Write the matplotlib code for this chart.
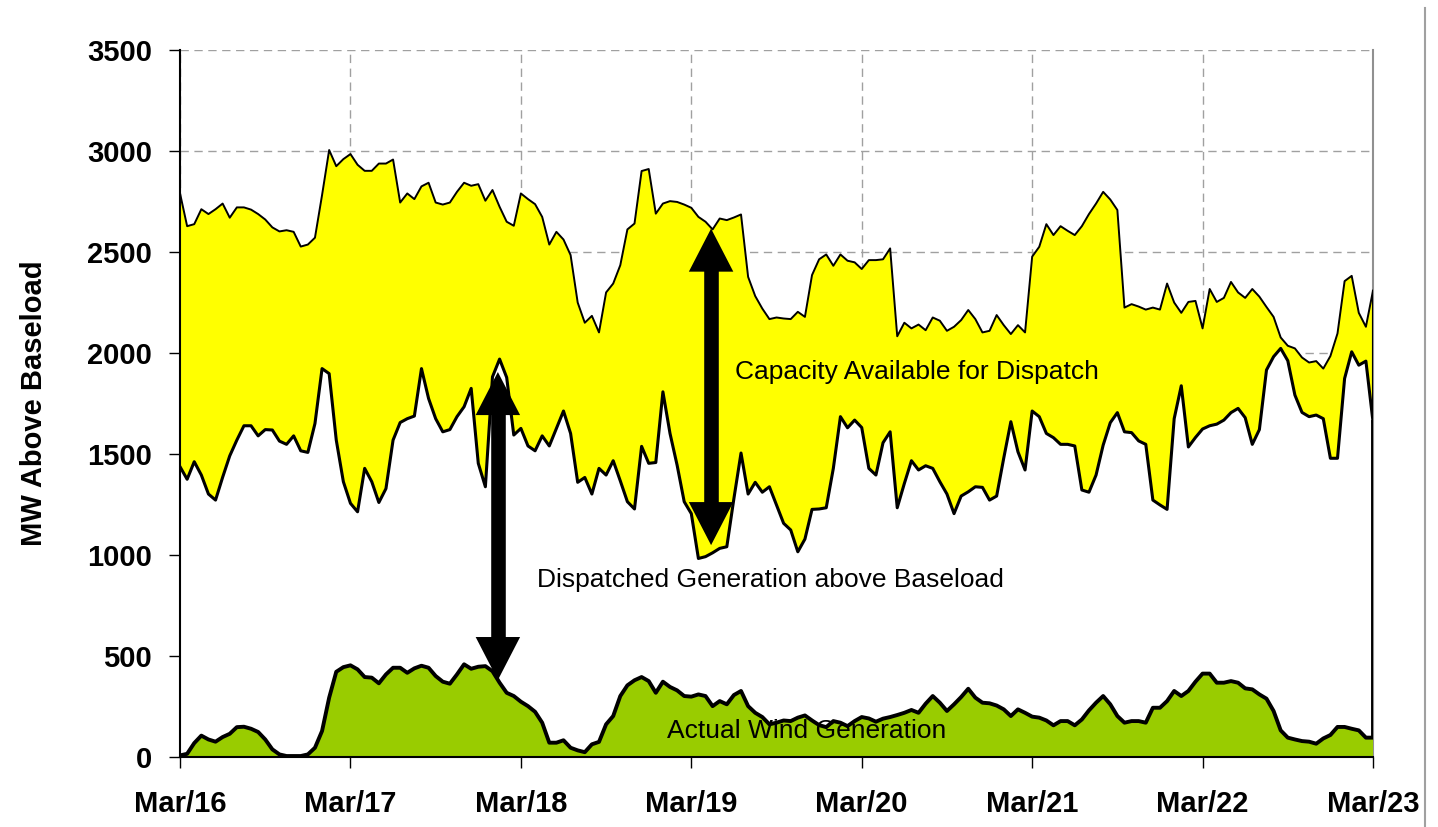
import numpy as np
import matplotlib
matplotlib.use("Agg")
import matplotlib.pyplot as plt
from matplotlib import font_manager
from matplotlib.lines import Line2D

# hourly values, Mar 16 00:00 .. Mar 23 00:00 (MW above baseload)
capacity = [
    2790, 2628, 2638, 2712, 2688, 2712, 2740, 2670, 2721, 2721, 2710, 2688,
    2661, 2622, 2602, 2608, 2600, 2527, 2537, 2571, 2782, 3005, 2925, 2960,
    2985, 2932, 2902, 2902, 2938, 2938, 2958, 2745, 2790, 2762, 2825, 2843,
    2745, 2735, 2745, 2798, 2843, 2828, 2836, 2754, 2807, 2724, 2650, 2630,
    2790, 2762, 2737, 2674, 2537, 2600, 2562, 2485, 2250, 2150, 2184, 2102,
    2300, 2344, 2435, 2612, 2641, 2901, 2911, 2690, 2740, 2752, 2748, 2735,
    2719, 2674, 2650, 2612, 2666, 2658, 2671, 2686, 2377, 2282, 2220, 2168,
    2176, 2171, 2168, 2204, 2179, 2386, 2464, 2488, 2432, 2488, 2457, 2449,
    2416, 2460, 2460, 2464, 2518, 2083, 2150, 2122, 2141, 2113, 2176, 2160,
    2110, 2130, 2163, 2213, 2168, 2102, 2110, 2188, 2138, 2094, 2138, 2102,
    2477, 2526, 2638, 2584, 2628, 2605, 2584, 2628, 2688, 2740, 2798, 2760,
    2708, 2225, 2242, 2230, 2215, 2225, 2215, 2344, 2250, 2199, 2253, 2258,
    2122, 2317, 2253, 2273, 2352, 2300, 2273, 2317, 2279, 2228, 2179, 2077,
    2036, 2023, 1978, 1953, 1960, 1923, 1985, 2097, 2356, 2382, 2199, 2130,
    2309,
]
dispatched = [
    1437, 1375, 1462, 1396, 1302, 1272, 1385, 1491, 1569, 1640, 1640, 1590,
    1621, 1619, 1564, 1548, 1590, 1516, 1508, 1651, 1923, 1898, 1569, 1363,
    1256, 1214, 1429, 1363, 1260, 1329, 1569, 1656, 1675, 1688, 1923, 1775,
    1675, 1610, 1621, 1685, 1734, 1825, 1454, 1338, 1882, 1970, 1879, 1594,
    1627, 1540, 1516, 1590, 1540, 1627, 1713, 1602, 1360, 1384, 1302, 1429,
    1396, 1467, 1367, 1264, 1228, 1538, 1454, 1458, 1808, 1602, 1445, 1264,
    1205, 983, 992, 1011, 1033, 1041, 1280, 1505, 1302, 1360, 1311, 1338,
    1248, 1157, 1124, 1016, 1079, 1226, 1228, 1234, 1429, 1685, 1630, 1668,
    1631, 1429, 1396, 1556, 1610, 1234, 1354, 1467, 1421, 1442, 1429, 1363,
    1302, 1205, 1292, 1313, 1338, 1335, 1272, 1292, 1480, 1660, 1511, 1421,
    1713, 1685, 1602, 1581, 1548, 1548, 1540, 1322, 1311, 1396, 1544, 1655,
    1705, 1610, 1606, 1565, 1548, 1272, 1248, 1226, 1675, 1838, 1535, 1582,
    1624, 1640, 1648, 1668, 1705, 1726, 1680, 1548, 1621, 1916, 1982, 2023,
    1962, 1792, 1706, 1685, 1693, 1675, 1479, 1479, 1874, 2006, 1940, 1960,
    1660,
]
wind = [
    8, 16, 69, 106, 87, 76, 99, 115, 148, 150, 140, 124,
    87, 38, 13, 5, 5, 5, 13, 46, 129, 294, 422, 445,
    454, 434, 396, 393, 365, 409, 442, 442, 417, 439, 452, 442,
    401, 373, 363, 409, 459, 437, 447, 450, 425, 368, 318, 302,
    274, 252, 224, 170, 71, 71, 83, 46, 33, 24, 63, 75,
    162, 203, 302, 355, 380, 396, 376, 318, 373, 347, 330, 302,
    299, 310, 302, 252, 277, 261, 307, 327, 252, 219, 198, 162,
    170, 181, 178, 195, 206, 181, 158, 148, 178, 170, 153, 178,
    198, 191, 175, 190, 198, 208, 219, 233, 219, 264, 302, 269,
    228, 261, 297, 338, 294, 269, 266, 255, 236, 203, 236, 219,
    200, 195, 181, 157, 178, 178, 157, 186, 231, 269, 302, 261,
    203, 170, 178, 178, 170, 244, 244, 277, 327, 302, 327, 373,
    413, 413, 368, 368, 376, 368, 340, 335, 310, 289, 228, 132,
    96, 87, 79, 76, 66, 92, 109, 149, 149, 140, 132, 96,
    96,
]
day_labels = ["Mar/16", "Mar/17", "Mar/18", "Mar/19", "Mar/20", "Mar/21", "Mar/22", "Mar/23"]
y_ticks = [0, 500, 1000, 1500, 2000, 2500, 3000, 3500]

# arrows: (x in days, bottom tip, top tip)
arrow_span_1 = (1.865, 381, 1906)
arrow_span_2 = (3.116, 1049, 2616)

t = np.arange(len(capacity)) / 24.0
capacity = np.array(capacity)
dispatched = np.array(dispatched)
wind = np.array(wind)

names = {f.name for f in font_manager.fontManager.ttflist}
narrow = "Liberation Sans Narrow" in names
note_family = "Liberation Sans Narrow" if narrow else "Liberation Sans"
note_size = 22 if narrow else 19

plt.rcParams["font.family"] = ["Liberation Sans", "DejaVu Sans"]

fig = plt.figure(figsize=(14.38, 8.27), dpi=100)
ax = fig.add_axes([0.1252, 0.0846, 0.8296, 0.8549])

ax.set_xlim(0, 7)
ax.set_ylim(0, 3500)

ax.grid(True, color="#A0A0A0", linestyle=(0, (6, 4)), linewidth=1.0, zorder=0)
ax.set_axisbelow(True)

# stacked areas: dispatched (white) + available capacity (yellow)
ax.fill_between(t, dispatched, capacity, facecolor="#FFFF00", edgecolor="none", zorder=2)
ax.fill_between(t, 0, dispatched, facecolor="white", edgecolor="none", zorder=2)
ax.plot(t, capacity, color="black", lw=1.4, zorder=3)
ax.plot(t, dispatched, color="black", lw=2.2, zorder=3)
ax.plot([t[-1], t[-1]], [dispatched[-1], capacity[-1]], color="black", lw=1.5, zorder=3)
ax.plot([t[-1], t[-1]], [0, dispatched[-1]], color="black", lw=2.8, zorder=3)

# wind
ax.fill_between(t, 0, wind, facecolor="#99CC00", edgecolor="none", zorder=4)
ax.plot(t, wind, color="black", lw=2.8, zorder=5, solid_joinstyle="round")


def double_arrow(x, y0, y1):
    # head length is 31 pt; convert to data units so shaft and heads line up
    px_per_unit = ax.transData.transform((0, 1))[1] - ax.transData.transform((0, 0))[1]
    head = 31 * fig.dpi / 72.0 / px_per_unit
    style = "simple,head_length=31,head_width=32,tail_width=1"
    for yt, ys in ((y0, y0 + 1.02 * head), (y1, y1 - 1.02 * head)):
        ax.annotate("", xy=(x, yt), xytext=(x, ys), zorder=7,
                    arrowprops=dict(arrowstyle=style, mutation_scale=1,
                                    facecolor="black", edgecolor="none",
                                    shrinkA=0, shrinkB=0))
    ax.plot([x, x], [y0 + 0.6 * head, y1 - 0.6 * head], color="black", lw=10.5,
            solid_capstyle="butt", zorder=7)


double_arrow(*arrow_span_1)
double_arrow(*arrow_span_2)

ax.text(3.257, 1906, "Capacity Available for Dispatch", family=note_family,
        fontsize=note_size, ha="left", va="center", zorder=8)
ax.text(2.095, 876, "Dispatched Generation above Baseload", family=note_family,
        fontsize=note_size, ha="left", va="center", zorder=8)
ax.text(2.858, 129, "Actual Wind Generation", family=note_family,
        fontsize=note_size, ha="left", va="center", zorder=8)

ax.set_xticks(range(len(day_labels)))
ax.set_xticklabels(day_labels, fontsize=21, fontweight="bold")
ax.set_yticks(y_ticks)
ax.set_yticklabels([str(v) for v in y_ticks], fontsize=21, fontweight="bold")
ax.tick_params(axis="x", direction="out", length=8, width=1, pad=16)
ax.tick_params(axis="y", direction="out", length=8, width=1, pad=12)
ax.set_ylabel("MW Above Baseload", fontsize=21, fontweight="bold")
ax.yaxis.set_label_coords(-0.1106, 0.5)

for side in ("left", "bottom"):
    ax.spines[side].set_color("black")
    ax.spines[side].set_linewidth(1.5)
    ax.spines[side].set_zorder(9)
ax.spines["top"].set_visible(False)
ax.spines["right"].set_color("#909090")
ax.spines["right"].set_linewidth(1.5)

# outer chart frame on the right
fig.add_artist(Line2D([0.991, 0.991], [0.0, 0.99], color="#A0A0A0", lw=1.5))

fig.savefig("out.png", dpi=100)
